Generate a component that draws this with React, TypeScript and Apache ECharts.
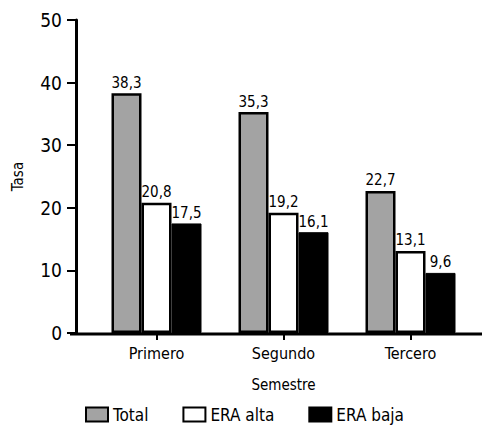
import React, { useEffect, useRef } from "react";
import * as echarts from "echarts";

const categories = ["Primero", "Segundo", "Tercero"];
const total = [38.3, 35.3, 22.7];
const eraAlta = [20.8, 19.2, 13.1];
const eraBaja = [17.5, 16.1, 9.6];
const seriesNames = ["Total", "ERA alta", "ERA baja"];

const FONT = "'Liberation Sans Narrow', 'DejaVu Sans Condensed', 'Liberation Sans', sans-serif";

export default function App() {
  const ref = useRef<HTMLDivElement>(null);
  useEffect(() => {
    document.body.style.margin = "0";
    if (!ref.current) return;
    const chart = echarts.init(ref.current, null, { renderer: "svg" });
    const fmt = (p: any) => String(p.value).replace(".", ",");
    const label = {
      show: true,
      position: "top" as const,
      distance: 3,
      formatter: fmt,
      color: "#000",
      fontSize: 15,
      fontFamily: FONT,
    };
    chart.setOption({
      animation: false,
      backgroundColor: "#fff",
      textStyle: { fontFamily: FONT },
      grid: { left: 93, right: 12, top: 20, bottom: 102 },
      legend: {
        data: seriesNames,
        top: 401,
        left: 80,
        icon: "rect",
        itemWidth: 22,
        itemHeight: 14,
        itemGap: 34,
        textStyle: { color: "#000", fontSize: 17, fontFamily: FONT },
      },
      xAxis: {
        type: "category",
        data: categories,
        name: "Semestre",
        nameLocation: "middle",
        nameGap: 44,
        nameTextStyle: { color: "#000", fontSize: 15, fontFamily: FONT },
        axisLine: { show: false },
        axisTick: { show: true, alignWithLabel: true, length: 7, lineStyle: { color: "#000", width: 2 } },
        axisLabel: { color: "#000", fontSize: 16, margin: 12, fontFamily: FONT },
      },
      yAxis: {
        type: "value",
        min: 0,
        max: 50,
        interval: 10,
        offset: 17,
        name: "Tasa",
        nameLocation: "middle",
        nameGap: 51,
        nameTextStyle: { color: "#000", fontSize: 15, fontFamily: FONT },
        axisLine: { show: true, lineStyle: { color: "#000", width: 3 } },
        axisTick: { show: true, length: 9, lineStyle: { color: "#000", width: 2 } },
        axisLabel: { color: "#000", fontSize: 19, margin: 14, fontFamily: FONT },
        splitLine: { show: false },
      },
      series: [
        {
          name: seriesNames[0],
          type: "bar",
          data: total,
          barWidth: 30,
          barGap: "0%",
          itemStyle: { color: "#a3a3a3", borderColor: "#000", borderWidth: 2.5 },
          label,
        },
        {
          name: seriesNames[1],
          type: "bar",
          data: eraAlta,
          barWidth: 30,
          barGap: "0%",
          itemStyle: { color: "#fff", borderColor: "#000", borderWidth: 2.5 },
          label,
        },
        {
          name: seriesNames[2],
          type: "bar",
          data: eraBaja,
          barWidth: 30,
          barGap: "0%",
          itemStyle: { color: "#000", borderColor: "#000", borderWidth: 1 },
          label,
        },
      ],
      graphic: [
        {
          type: "line",
          shape: { x1: 70, y1: 334, x2: 482, y2: 334 },
          style: { stroke: "#000", lineWidth: 3 },
          z: 100,
        },
      ],
    });
    return () => chart.dispose();
  }, []);
  return <div ref={ref} style={{ width: 486, height: 435 }} />;
}
